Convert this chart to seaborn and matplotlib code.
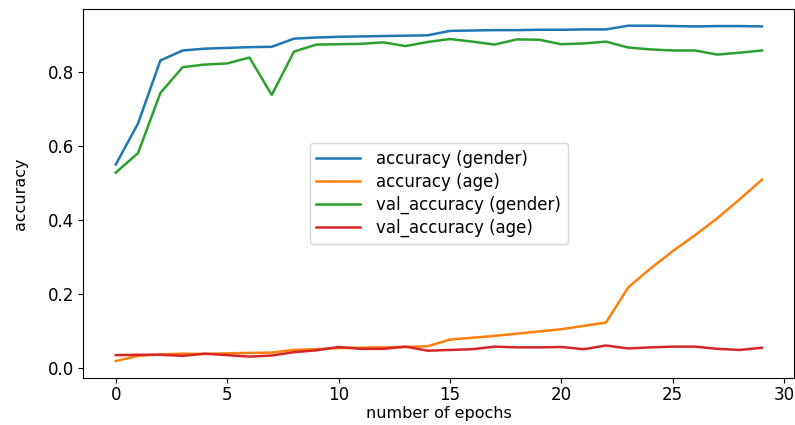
import matplotlib
matplotlib.use("Agg")
import matplotlib.pyplot as plt
import seaborn as sns
import pandas as pd
import numpy as np

# training history values
epochs = list(range(30))

acc_gender = [0.549, 0.660, 0.830, 0.857, 0.862, 0.864, 0.866, 0.867, 0.889, 0.892,
              0.894, 0.895, 0.896, 0.897, 0.898, 0.910, 0.911, 0.912, 0.912, 0.913,
              0.913, 0.914, 0.914, 0.924, 0.924, 0.923, 0.922, 0.923, 0.923, 0.922]

acc_age = [0.018, 0.032, 0.036, 0.038, 0.037, 0.039, 0.040, 0.041, 0.048, 0.050,
           0.053, 0.054, 0.055, 0.056, 0.058, 0.076, 0.081, 0.086, 0.092, 0.098,
           0.104, 0.113, 0.122, 0.217, 0.268, 0.315, 0.358, 0.404, 0.455, 0.508]

val_acc_gender = [0.527, 0.580, 0.742, 0.812, 0.819, 0.822, 0.838, 0.737, 0.854, 0.873,
                  0.874, 0.875, 0.879, 0.869, 0.880, 0.888, 0.881, 0.873, 0.887, 0.886,
                  0.874, 0.876, 0.881, 0.865, 0.860, 0.857, 0.857, 0.846, 0.851, 0.857]

val_acc_age = [0.034, 0.035, 0.035, 0.032, 0.038, 0.034, 0.030, 0.033, 0.042, 0.047,
               0.056, 0.051, 0.051, 0.057, 0.046, 0.048, 0.050, 0.057, 0.055, 0.055,
               0.056, 0.050, 0.060, 0.052, 0.055, 0.057, 0.057, 0.051, 0.048, 0.054]

series_names = ['accuracy (gender)', 'accuracy (age)', 'val_accuracy (gender)', 'val_accuracy (age)']
series_values = [acc_gender, acc_age, val_acc_gender, val_acc_age]

# long-form table for seaborn
df = pd.concat([
    pd.DataFrame({'epoch': epochs, 'accuracy': vals, 'metric': name})
    for name, vals in zip(series_names, series_values)
], ignore_index=True)

colors = sns.color_palette("tab10", 4)

fig = plt.figure(figsize=(7.95, 4.25), dpi=100)
ax = fig.add_axes([0.105, 0.111, 0.894, 0.868])

sns.lineplot(data=df, x='epoch', y='accuracy', hue='metric', hue_order=series_names,
             palette=colors, linewidth=1.8, ax=ax)

ax.set_xlabel('number of epochs', fontsize=11.5, labelpad=1)
ax.set_ylabel('accuracy', fontsize=11.5, labelpad=14)
ax.tick_params(labelsize=12)
ax.tick_params(axis='x', pad=2.5)
ax.set_xticks([0, 5, 10, 15, 20, 25, 30])
ax.set_yticks([0.0, 0.2, 0.4, 0.6, 0.8])

handles, labels = ax.get_legend_handles_labels()
ax.legend(handles, labels, loc='center', fontsize=12, handlelength=2.6,
          labelspacing=0.3, handletextpad=1.0)

plt.savefig('out.png', dpi=100)
